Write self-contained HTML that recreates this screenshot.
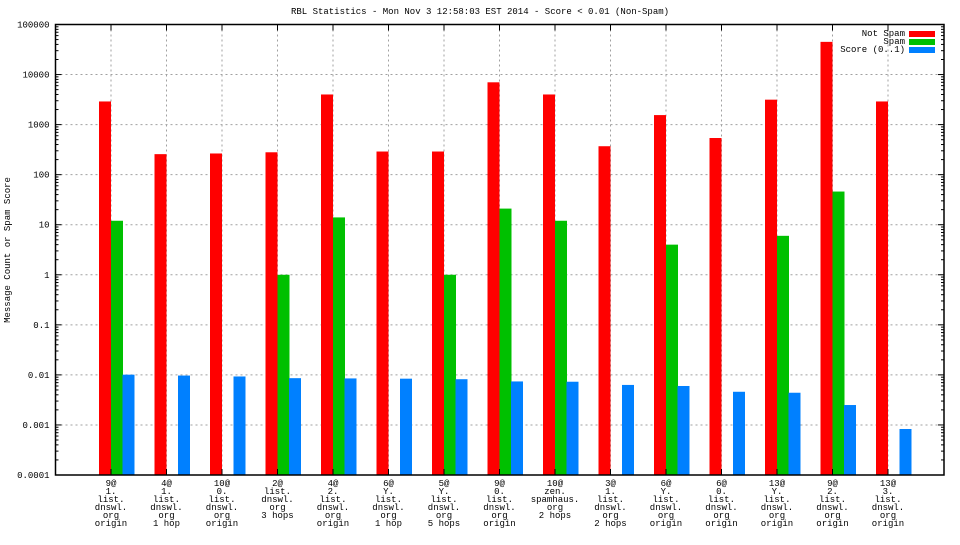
<!DOCTYPE html>
<html><head><meta charset="utf-8"><style>
body{margin:0;background:#fff}
text{font-family:"Liberation Mono",monospace;font-size:9px;fill:#000}
</style></head><body>
<svg id="c" width="960" height="540" xmlns="http://www.w3.org/2000/svg">
<text x="480" y="14" text-anchor="middle">RBL Statistics - Mon Nov  3 12:58:03 EST 2014 - Score &lt; 0.01 (Non-Spam)</text>
<text transform="translate(10,250) rotate(-90)" text-anchor="middle">Message Count or Spam Score</text>
<g id="grid"></g><g id="bars"></g><g id="axes"></g>
<g>
<text x="905" y="36" text-anchor="end">Not Spam</text>
<rect x="909" y="31" width="26" height="6" fill="#ff0000"/>
<text x="905" y="44" text-anchor="end">Spam</text>
<rect x="909" y="39" width="26" height="6" fill="#00c000"/>
<text x="905" y="52" text-anchor="end">Score (0..1)</text>
<rect x="909" y="47" width="26" height="6" fill="#0080ff"/>
</g>
</svg>
<script>
const categories=[["9@","1.","list.","dnswl.","org","origin"],["4@","1.","list.","dnswl.","org","1 hop"],["10@","0.","list.","dnswl.","org","origin"],["2@","list.","dnswl.","org","3 hops"],["4@","2.","list.","dnswl.","org","origin"],["6@","Y.","list.","dnswl.","org","1 hop"],["5@","Y.","list.","dnswl.","org","5 hops"],["9@","0.","list.","dnswl.","org","origin"],["10@","zen.","spamhaus.","org","2 hops"],["3@","1.","list.","dnswl.","org","2 hops"],["6@","Y.","list.","dnswl.","org","origin"],["6@","0.","list.","dnswl.","org","origin"],["13@","Y.","list.","dnswl.","org","origin"],["9@","2.","list.","dnswl.","org","origin"],["13@","3.","list.","dnswl.","org","origin"]];
const notSpam=[2900,257,265,280,4000,290,290,7000,4000,370,1550,540,3150,45000,2900];
const spam=[12,0,0,1,14,0,1,21,12,0,4,0,6,46,0];
const score=[0.0101,0.0097,0.0093,0.0086,0.0085,0.0084,0.0082,0.0074,0.0073,0.0063,0.0060,0.0046,0.0044,0.0025,0.00083];
const yTicks=[0.0001,0.001,0.01,0.1,1,10,100,1000,10000,100000];
const yLabels=["0.0001","0.001","0.01","0.1","1","10","100","1000","10000","100000"];
const L=55.5,R=944,T=24.5,B=475;
const y=v=>B-(Math.log10(v)+4)/9*(B-T);
const xc=i=>111+i*((888-111)/14);
const ns="http://www.w3.org/2000/svg";
function mk(p,t,a){const e=document.createElementNS(ns,t);for(const k in a)e.setAttribute(k,a[k]);document.getElementById(p).appendChild(e);return e;}
yTicks.forEach((v,i)=>{
 const yy=y(v);
 if(i>0&&i<yTicks.length-1){const g=mk('grid','line',{x1:L,x2:R,y1:yy,y2:yy,stroke:'#a0a0a0','stroke-dasharray':'2,3'});
 
 }
 mk('axes','line',{x1:L,x2:L+6,y1:yy,y2:yy,stroke:'#000'});
 mk('axes','line',{x1:R-6,x2:R,y1:yy,y2:yy,stroke:'#000'});
 const t=mk('axes','text',{x:L-6,y:yy+3,'text-anchor':'end'});t.textContent=yLabels[i];
 
 
 if(i<yTicks.length-1)for(let m=2;m<10;m++){const my=y(v*m);
  mk('axes','line',{x1:L,x2:L+3,y1:my,y2:my,stroke:'#000'});mk('axes','line',{x1:R-3,x2:R,y1:my,y2:my,stroke:'#000'});}
});
categories.forEach((c,i)=>{
 const x=xc(i);
 const g=mk('grid','line',{x1:x,x2:x,y1:T,y2:B,stroke:'#a0a0a0','stroke-dasharray':'2,3'});
 
 
 mk('axes','line',{x1:x,x2:x,y1:B,y2:B-6,stroke:'#000'});
 mk('axes','line',{x1:x,x2:x,y1:T,y2:T+6,stroke:'#000'});
 const t=mk('axes','text',{x:x,y:B+11,'text-anchor':'middle'});
 
 
 c.forEach((s,j)=>{const ts=document.createElementNS(ns,'tspan');ts.setAttribute('x',x);ts.setAttribute('dy',j?8:0);ts.textContent=s;t.appendChild(ts);});
 [[notSpam,'#ff0000',-12,'bar-not-spam'],[spam,'#00c000',0,'bar-spam'],[score,'#0080ff',11.5,'bar-score']].forEach(([arr,col,off,nm])=>{
  const v=arr[i];if(!(v>0))return;const top=y(v);
  const r=mk('bars','rect',{x:x+off,y:top,width:12,height:B-top,fill:col});
  
  
 });
});
const f=mk('axes','rect',{x:L,y:T,width:R-L,height:B-T,fill:'none',stroke:'#000','stroke-width':1.5});


</script>
</body></html>
